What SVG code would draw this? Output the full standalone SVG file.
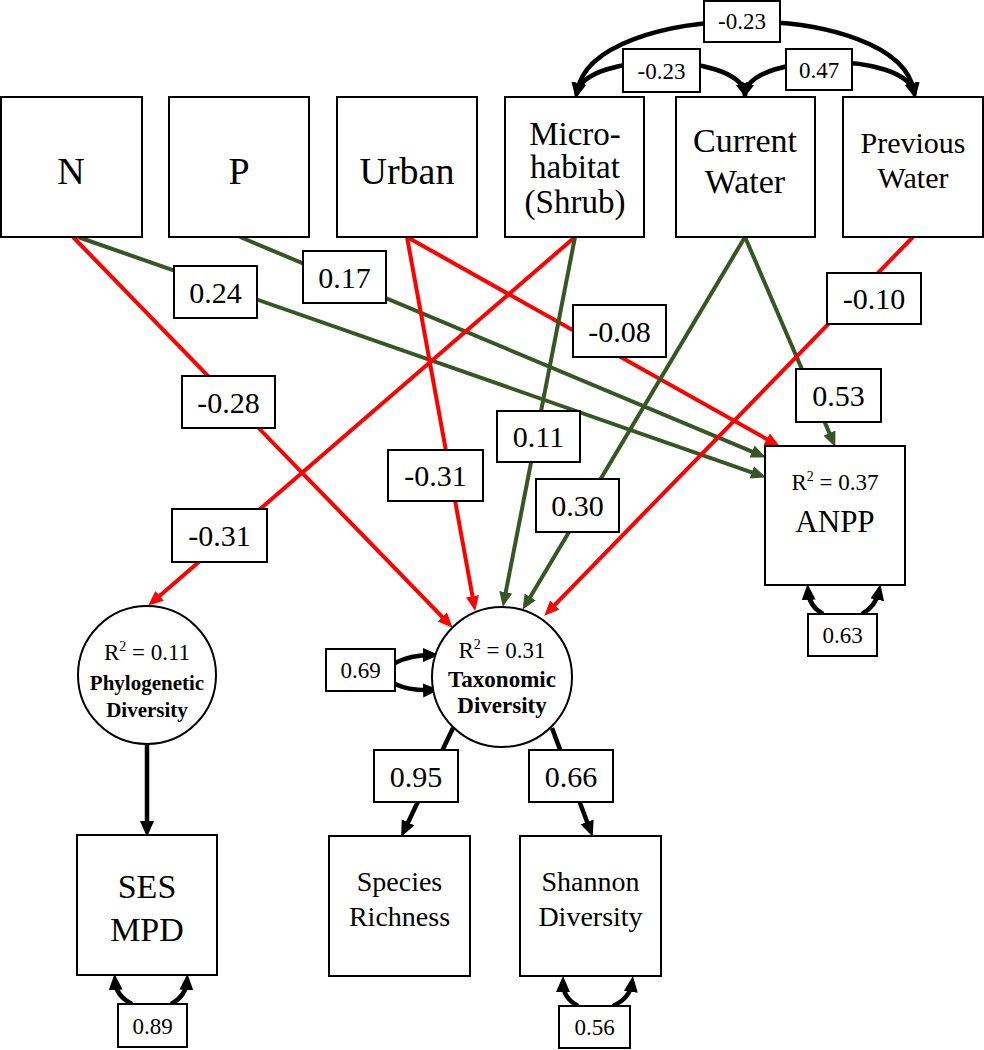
<svg xmlns="http://www.w3.org/2000/svg" width="984" height="1050" viewBox="0 0 984 1050" font-family="'Liberation Serif', Tinos, 'Times New Roman', 'DejaVu Serif', serif">
<style>
.box{fill:#fff;stroke:#000;stroke-width:2}
.t{font-family:'Liberation Serif', Tinos, 'Times New Roman', 'DejaVu Serif', serif;fill:#000;text-anchor:middle}
.b{font-weight:bold}
.red{fill:none;stroke:#ff0000;stroke-width:4}
.grn{fill:none;stroke:#375623;stroke-width:4}
.blk{fill:none;stroke:#000;stroke-width:4.5}
.lab{font-size:30px}
.sl{font-size:23px}
</style>
<defs>
<marker id="ar" markerUnits="userSpaceOnUse" markerWidth="16" markerHeight="14" refX="9" refY="6.5" orient="auto"><path d="M0,0 L15,6.5 L0,13 z" fill="#ff0000"/></marker>
<marker id="ag" markerUnits="userSpaceOnUse" markerWidth="16" markerHeight="14" refX="9" refY="6.5" orient="auto"><path d="M0,0 L15,6.5 L0,13 z" fill="#375623"/></marker>
<marker id="ak" markerUnits="userSpaceOnUse" markerWidth="17" markerHeight="15" refX="9" refY="7" orient="auto-start-reverse"><path d="M0,0 L16,7 L0,14 z" fill="#000"/></marker>
</defs>

<g id="connectors">
<path class="blk" d="M577,92 C592,-2 900,-2 914,92" marker-start="url(#ak)" marker-end="url(#ak)"/>
<path class="blk" d="M577,92 C588,52 734,52 745,92" marker-start="url(#ak)" marker-end="url(#ak)"/>
<path class="blk" d="M745,92 C756,52 903,52 914,92" marker-start="url(#ak)" marker-end="url(#ak)"/>
<line class="red" x1="73" y1="237" x2="448.5" y2="623.4" marker-end="url(#ar)"/>
<line class="grn" x1="78" y1="237" x2="760.3" y2="475.4" marker-end="url(#ag)"/>
<line class="grn" x1="240" y1="237" x2="760.4" y2="455.1" marker-end="url(#ag)"/>
<line class="red" x1="407" y1="237" x2="474.1" y2="605.1" marker-end="url(#ar)"/>
<line class="red" x1="407" y1="237" x2="774.6" y2="443.5" marker-end="url(#ar)"/>
<line class="red" x1="575" y1="237" x2="152.8" y2="601.7" marker-end="url(#ar)"/>
<line class="grn" x1="575" y1="237" x2="504" y2="601.1" marker-end="url(#ag)"/>
<line class="grn" x1="745" y1="237" x2="525.6" y2="604.7" marker-end="url(#ag)"/>
<line class="grn" x1="745" y1="237" x2="833" y2="441.4" marker-end="url(#ag)"/>
<line class="red" x1="913" y1="237" x2="548.5" y2="611.4" marker-end="url(#ar)"/>
<line class="blk" x1="147" y1="744" x2="147" y2="830" marker-end="url(#ak)"/>
<line class="blk" x1="453" y1="728" x2="404.2" y2="830.5" marker-end="url(#ak)"/>
<line class="blk" x1="552" y1="728" x2="590.2" y2="830.3" marker-end="url(#ak)"/>
<path class="blk" d="M395,663 Q410,655 432,655" marker-end="url(#ak)"/>
<path class="blk" d="M395,684 Q410,691 432,690" marker-end="url(#ak)"/>
<path class="blk" d="M823,614 Q809,606 808,591" marker-end="url(#ak)"/>
<path class="blk" d="M862,614 Q876,606 879,591" marker-end="url(#ak)"/>
<path class="blk" d="M132,1004 Q116,996 115,981" marker-end="url(#ak)"/>
<path class="blk" d="M171,1004 Q186,996 187,981" marker-end="url(#ak)"/>
<path class="blk" d="M578,1006 Q563,998 563,983" marker-end="url(#ak)"/>
<path class="blk" d="M613,1006 Q630,998 632,983" marker-end="url(#ak)"/>
<g id="labels">
<rect class="box" x="704" y="1" width="76" height="41"/><text class="t sl" x="742" y="29">-0.23</text>
<rect class="box" x="623" y="49" width="77" height="43"/><text class="t sl" x="661.5" y="78.5">-0.23</text>
<rect class="box" x="786" y="49" width="66" height="41"/><text class="t sl" x="819" y="77.5">0.47</text>
<rect class="box" x="174" y="266" width="83" height="52"/><text class="t lab" x="215.5" y="302.5">0.24</text>
<rect class="box" x="303" y="251" width="83" height="52"/><text class="t lab" x="344.5" y="287.5">0.17</text>
<rect class="box" x="182" y="376" width="93" height="52"/><text class="t lab" x="228.5" y="412.5">-0.28</text>
<rect class="box" x="573" y="305" width="93" height="52"/><text class="t lab" x="619.5" y="341.5">-0.08</text>
<rect class="box" x="827" y="273" width="94" height="51"/><text class="t lab" x="874" y="309">-0.10</text>
<rect class="box" x="796" y="369" width="85" height="53"/><text class="t lab" x="838.5" y="406">0.53</text>
<rect class="box" x="497" y="411" width="83" height="51"/><text class="t lab" x="538.5" y="447">0.11</text>
<rect class="box" x="388" y="450" width="95" height="51"/><text class="t lab" x="435.5" y="486">-0.31</text>
<rect class="box" x="536" y="479" width="83" height="53"/><text class="t lab" x="577.5" y="516">0.30</text>
<rect class="box" x="172" y="509" width="95" height="53"/><text class="t lab" x="219.5" y="546">-0.31</text>
<rect class="box" x="374" y="750" width="84" height="52"/><text class="t lab" x="416" y="786.5">0.95</text>
<rect class="box" x="529" y="750" width="84" height="52"/><text class="t lab" x="571" y="786.5">0.66</text>
<rect class="box" x="808" y="614" width="69" height="42"/><text class="t sl" x="842.5" y="643">0.63</text>
<rect class="box" x="326" y="649" width="69" height="42"/><text class="t sl" x="360.5" y="678">0.69</text>
<rect class="box" x="118" y="1004" width="69" height="43"/><text class="t sl" x="152.5" y="1033.5">0.89</text>
<rect class="box" x="559" y="1006" width="71" height="42"/><text class="t sl" x="594.5" y="1035">0.56</text>
</g>
</g>

<g id="node-N"><rect class="box" x="1" y="97" width="141" height="140"/><text class="t" x="71" y="184" font-size="38">N</text></g>
<g id="node-P"><rect class="box" x="169" y="97" width="140" height="140"/><text class="t" x="239" y="184" font-size="38">P</text></g>
<g id="node-Urban"><rect class="box" x="337" y="97" width="140" height="140"/><text class="t" x="407" y="184" font-size="38">Urban</text></g>
<g id="node-Micro"><rect class="box" x="505" y="97" width="139" height="140"/>
<text class="t" x="575" y="145" font-size="33">Micro-</text>
<text class="t" x="575" y="178" font-size="33">habitat</text>
<text class="t" x="575" y="213" font-size="33">(Shrub)</text></g>
<g id="node-Current"><rect class="box" x="676" y="97" width="139" height="140"/>
<text class="t" x="745" y="152" font-size="34">Current</text>
<text class="t" x="745" y="193" font-size="34">Water</text></g>
<g id="node-Previous"><rect class="box" x="843" y="97" width="140" height="140"/>
<text class="t" x="913" y="153" font-size="30">Previous</text>
<text class="t" x="913" y="188" font-size="30">Water</text></g>

<g id="node-ANPP"><rect class="box" x="765" y="446" width="140" height="139"/>
<text class="t" x="835" y="490" font-size="23">R<tspan font-size="14" dy="-9">2</tspan><tspan dy="9"> = 0.37</tspan></text>
<text class="t" x="835" y="532" font-size="31">ANPP</text></g>

<g id="node-Phylo"><circle cx="147" cy="675" r="69" fill="#fff" stroke="#000" stroke-width="2"/>
<text class="t" x="147" y="660" font-size="23">R<tspan font-size="14" dy="-9">2</tspan><tspan dy="9"> = 0.11</tspan></text>
<text class="t b" x="147" y="690" font-size="21">Phylogenetic</text>
<text class="t b" x="147" y="717" font-size="21">Diversity</text></g>

<g id="node-Taxo"><circle cx="502" cy="677" r="70" fill="#fff" stroke="#000" stroke-width="2"/>
<text class="t" x="502" y="658" font-size="23">R<tspan font-size="14" dy="-9">2</tspan><tspan dy="9"> = 0.31</tspan></text>
<text class="t b" x="502" y="687" font-size="23">Taxonomic</text>
<text class="t b" x="502" y="713" font-size="23">Diversity</text></g>

<g id="node-SES"><rect class="box" x="77" y="835" width="140" height="140"/>
<text class="t" x="147" y="898" font-size="34">SES</text>
<text class="t" x="147" y="941" font-size="34">MPD</text></g>
<g id="node-Species"><rect class="box" x="329" y="836" width="141" height="140"/>
<text class="t" x="399.5" y="891" font-size="28">Species</text>
<text class="t" x="399.5" y="926" font-size="28">Richness</text></g>
<g id="node-Shannon"><rect class="box" x="520" y="836" width="141" height="140"/>
<text class="t" x="590.5" y="891" font-size="28">Shannon</text>
<text class="t" x="590.5" y="926" font-size="28">Diversity</text></g>
</svg>
